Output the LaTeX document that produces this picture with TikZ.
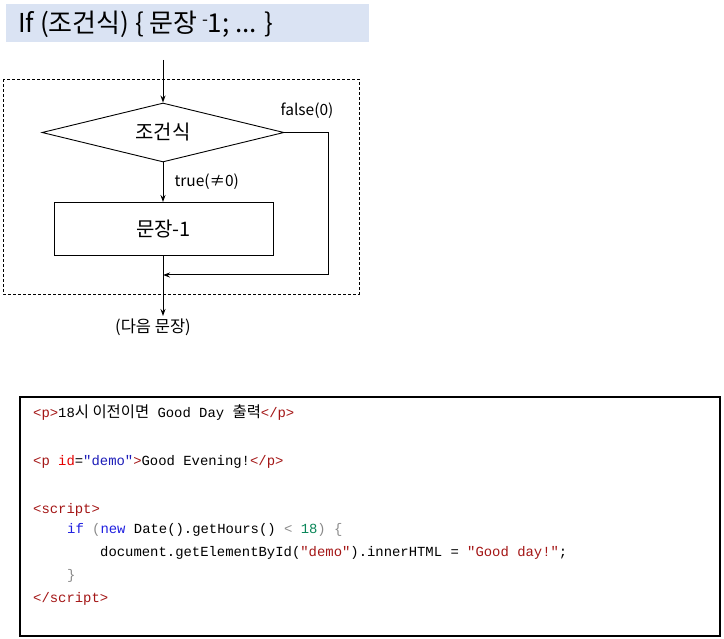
\documentclass[tikz,border=0pt]{standalone}
\usepackage{fontspec}
\setmainfont{Noto Sans CJK KR}
\setmonofont{Liberation Mono}
\newfontfamily\kr{Noto Sans CJK KR}
\usetikzlibrary{shapes.geometric,arrows.meta}
\definecolor{titlefill}{HTML}{DAE3F3}
\definecolor{tagred}{HTML}{A31515}
\definecolor{attred}{HTML}{E50000}
\definecolor{strblue}{HTML}{1C1CB8}
\definecolor{keyblue}{HTML}{1F1FE0}
\definecolor{numgreen}{HTML}{098658}
\definecolor{punct}{HTML}{8A8A8A}
\newcommand\tg[1]{\textcolor{tagred}{#1}}
\newcommand\kw[1]{\textcolor{keyblue}{#1}}
\newcommand\pc[1]{\textcolor{punct}{#1}}
\newcommand\krc[1]{{\kr\fontsize{15.4}{16}\selectfont #1}}
\tikzset{
  arr/.style={draw, line width=1pt, -{Stealth[length=7pt,width=5pt]}},
  cond/.style={diamond, draw, line width=0.9pt, inner sep=0pt, minimum width=242pt, minimum height=59pt, aspect=4.1},
  stmtbox/.style={rectangle, draw, line width=0.9pt, minimum width=219pt, minimum height=53pt},
  lbl/.style={font=\fontsize{15.5}{18}\selectfont, inner sep=0pt},
  codeline/.style={anchor=base west, inner sep=0pt, font=\ttfamily\fontsize{13.9}{16}\selectfont}
}
\begin{document}
\begin{tikzpicture}[x=1pt,y=-1pt]
  \useasboundingbox (0,0) rectangle (724,639);
  % title
  \fill[titlefill] (6,4) rectangle (369,42);
  \node[anchor=west, inner sep=0pt, font=\fontsize{26}{30}\selectfont] (title) at (18,24)
    {If (조건식) \{ 문장\,{\raisebox{.5ex}{\fontsize{17}{17}\selectfont -}}1; ... \}};
  % flow chart
  \draw[dash pattern=on 3pt off 2pt, line width=0.8pt] (3,79) rectangle (359,294);
  \coordinate (in) at (163,60);
  \node[cond, font=\fontsize{20}{24}\selectfont] (cond) at (163,132.5) {조건식};
  \node[stmtbox, font=\fontsize{20}{24}\selectfont] (stmt) at (163.5,228.5) {문장-1};
  \node[lbl, font=\fontsize{16.5}{20}\selectfont] (next) at (153,327) {(다음 문장)};
  \coordinate (join) at (163,275);
  \draw[arr] (in) -- (cond.north);
  \draw[arr] (cond.south) -- node[lbl, anchor=west, xshift=11pt, yshift=1pt] (true) {true(≠0)} (163,202);
  \draw[arr] (stmt.south -| 163,0) -- (163,316);
  \draw[arr] (cond.east) -- (328,132.5) |- (join);
  \node[lbl] (false) at (307,111) {false(0)};
  % code
  \draw[line width=1.2pt] (20,397) rectangle (720,636);
  \node[codeline] (c1) at (33,418) {\tg{<p>}18\krc{시 이전이면} Good Day \krc{출력}\tg{</p>}};
  \node[codeline] (c2) at (33,466) {\tg{<p }\textcolor{attred}{id}=\textcolor{strblue}{"demo"}\tg{>}Good Evening!\tg{</p>}};
  \node[codeline] (c3) at (33,514) {\tg{<script>}};
  \node[codeline] (c4) at (67,533) {\kw{if} \pc{(}\kw{new} Date().getHours() \pc{<} \textcolor{numgreen}{18}\pc{)} \pc{\{}};
  \node[codeline] (c5) at (100,556) {document.getElementById(\tg{"demo"}).innerHTML = \tg{"Good day!"};};
  \node[codeline] (c6) at (67,579) {\pc{\}}};
  \node[codeline] (c7) at (33,602) {\tg{</script>}};
\end{tikzpicture}
\end{document}
